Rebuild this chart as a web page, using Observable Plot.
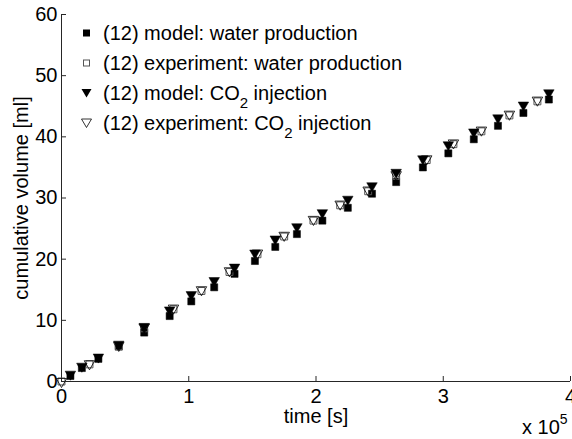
<!DOCTYPE html>
<html><head><meta charset="utf-8">
<script src="https://cdn.jsdelivr.net/npm/d3@7"></script>
<script src="https://cdn.jsdelivr.net/npm/@observablehq/plot@0.6"></script>
<style>
body{margin:0;background:#fff;font-family:"Liberation Sans",Arial,sans-serif;}
#wrap{position:relative;width:572px;height:439px;overflow:hidden}
#legend{position:absolute;left:78px;top:18px;font-size:20px;color:#000;line-height:1}
#legend .row{display:flex;align-items:center;height:30px;white-space:nowrap}
#legend svg{width:18px;height:14px;margin-right:7px;overflow:visible;flex:none}
#legend sub{font-size:15px;vertical-align:-8px;line-height:0}
#exp{position:absolute;left:522px;top:419px;font-size:20px;color:#000;line-height:16px;white-space:nowrap}
#exp sup{font-size:14px;vertical-align:10px;line-height:0}
</style></head><body><div id="wrap"></div>
<script>
// time in seconds
const modelTime = [7000, 16000, 29000, 45000, 65000, 85000, 102000, 120000, 136000, 152000, 168000, 185000, 205000, 225000, 244000, 263000, 284000, 304000, 324000, 343000, 363000, 383000];
const modelWater = [0.9, 2.2, 3.7, 5.7, 8.0, 10.7, 13.1, 15.4, 17.6, 19.7, 22.0, 24.1, 26.3, 28.4, 30.7, 32.6, 35.0, 37.3, 39.6, 41.8, 43.9, 46.1];
const modelCO2 = [1.2, 2.5, 4.0, 6.1, 9.0, 11.7, 14.2, 16.5, 18.7, 21.0, 23.3, 25.3, 27.6, 29.8, 32.0, 34.2, 36.4, 38.7, 40.8, 43.1, 45.2, 47.2];
const expTime = [0, 22000, 45000, 65000, 88000, 110000, 132000, 154000, 175000, 198000, 219000, 241000, 263000, 287000, 308000, 330000, 352000, 374000];
const expWater = [0, 2.8, 5.8, 8.7, 11.8, 14.8, 17.9, 20.8, 23.7, 26.3, 28.8, 31.1, 33.6, 36.2, 38.8, 40.9, 43.5, 45.8];
const expCO2 = [0, 2.9, 5.9, 8.9, 12.0, 15.0, 18.1, 21.0, 23.9, 26.5, 29.0, 31.3, 33.8, 36.4, 39.0, 41.1, 43.7, 46.0];
const xTicks = [0, 100000, 200000, 300000, 400000];
const yTicks = [0, 10, 20, 30, 40, 50, 60];
const legendLabels = ["(12) model: water production", "(12) experiment: water production", "(12) model: CO<sub>2</sub> injection", "(12) experiment: CO<sub>2</sub> injection"];
const xLabel = "time [s]";
const yLabel = "cumulative volume [ml]";

const mw = modelTime.map((t, i) => ({t, v: modelWater[i]}));
const mc = modelTime.map((t, i) => ({t, v: modelCO2[i]}));
const ew = expTime.map((t, i) => ({t, v: expWater[i]}));
const ec = expTime.map((t, i) => ({t, v: expCO2[i]}));
const axisColor = "#262626";

const chart = Plot.plot({
  width: 572, height: 439,
  marginLeft: 61, marginRight: 2, marginTop: 14, marginBottom: 58,
  style: {fontFamily: "'Liberation Sans', Arial, sans-serif", fontSize: "20px", background: "#fff", color: "#000", overflow: "visible"},
  x: {domain: [0, 400000]},
  y: {domain: [0, 60]},
  marks: [
    Plot.ruleX([0], {stroke: axisColor}),
    Plot.ruleY([0], {stroke: axisColor}),
    Plot.axisX(xTicks, {tickSize: -5, tickPadding: 12, tickFormat: d => d / 1e5, label: null, stroke: axisColor, fill: "#000", fontSize: 20}),
    Plot.axisY(yTicks, {tickSize: -5, tickPadding: 9, label: null, stroke: axisColor, fill: "#000", fontSize: 20}),
    Plot.text([xLabel], {frameAnchor: "bottom", dy: 41, text: d => d, fontSize: 20}),
    Plot.text([yLabel], {frameAnchor: "left", dx: -40, rotate: -90, textAnchor: "middle", text: d => d, fontSize: 20}),
    Plot.dot(mw, {x: "t", y: "v", symbol: "square", r: 4, fill: "#000", stroke: "#000", strokeWidth: 0.5}),
    Plot.dot(ew, {x: "t", y: "v", symbol: "square", r: 3.9, fill: "none", stroke: "#555", strokeWidth: 1}),
    Plot.dot(mc, {x: "t", y: "v", symbol: "triangle", rotate: 180, r: 3.9, fill: "#000", stroke: "#000", strokeWidth: 0.5}),
    Plot.dot(ec, {x: "t", y: "v", symbol: "triangle", rotate: 180, r: 3.9, fill: "none", stroke: "#000", strokeWidth: 0.8})
  ]
});

const wrap = document.getElementById("wrap");
wrap.appendChild(chart);

const sym = [
  '<rect x="5" y="3.5" width="7" height="7" fill="#000"/>',
  '<rect x="5.5" y="4" width="6" height="6" fill="none" stroke="#555"/>',
  '<path d="M3.5,3 L13.5,3 L8.5,11.5 Z" fill="#000"/>',
  '<path d="M3.5,3 L13.5,3 L8.5,11.5 Z" fill="none" stroke="#000" stroke-width="0.8"/>'
];
const leg = document.createElement("div");
leg.id = "legend";
leg.innerHTML = legendLabels.map((l, i) => `<div class="row"><svg viewBox="0 0 18 14">${sym[i]}</svg><span>${l}</span></div>`).join("");
wrap.appendChild(leg);

const ex = document.createElement("div");
ex.id = "exp";
ex.innerHTML = "x 10<sup>5</sup>";
wrap.appendChild(ex);
</script>
</body></html>
